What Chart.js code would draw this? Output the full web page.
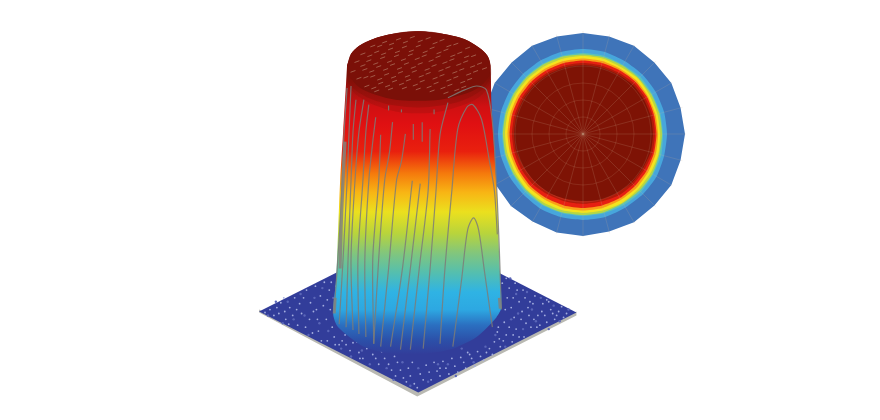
<!DOCTYPE html>
<html>
<head>
<meta charset="utf-8">
<script src="https://cdn.jsdelivr.net/npm/chart.js@4/dist/chart.umd.min.js"></script>
<style>
html, body { margin: 0; padding: 0; background: #fff; }
#stage { position: relative; width: 880px; height: 420px; overflow: hidden; }
canvas { position: absolute; display: block; }
#discChart { left: 480px; top: 31px; filter: blur(0.7px); }
#surfaceChart { left: 0; top: 0; filter: blur(0.4px); }
</style>
</head>
<body>
<div id="stage">
  <canvas id="discChart" width="206" height="206"></canvas>
  <canvas id="surfaceChart" width="880" height="420"></canvas>
</div>
<script>
// polar map: ring radius per direction, clockwise from the top, every 15 degrees
var angles = ['0','15','30','45','60','75','90','105','120','135','150','165','180','195','210','225','240','255','270','285','300','315','330','345'];
var ringBlue   = [101, 101, 102, 101, 102, 101, 102, 101, 102, 101, 102, 101, 102, 102, 101, 102, 101, 102, 102, 101, 102, 101, 102, 101];
var ringSky    = [85, 85, 84, 84, 84, 84, 84, 84, 85, 85, 85, 86, 86, 86, 86, 85, 85, 85, 85, 85, 85, 85, 85, 85];
var ringTeal   = [81, 81, 80, 81, 80, 80, 80, 81, 81, 82, 82, 82, 82, 82, 82, 82, 81, 81, 81, 81, 81, 81, 81, 81];
var ringLime   = [79.5, 79.5, 79, 79, 79, 79, 79, 79, 80, 80, 80, 81, 81, 81, 81, 80, 80, 80, 80, 80, 80, 80, 80, 80];
var ringYellow = [78, 78, 77, 78, 77, 77, 77, 78, 78, 78, 79, 79, 79, 79, 79, 79, 78, 78, 78, 78, 78, 78, 78, 78];
var ringOrange = [75.5, 75.5, 75, 75.5, 75, 75, 75, 75.5, 75.5, 76, 76, 76.5, 76.5, 76.5, 76, 76, 75.5, 75.5, 75.5, 75.5, 75.5, 75.5, 75.5, 75.5];
var ringRed    = [73.5, 73.5, 73.5, 74, 74, 73.5, 73.5, 73.5, 73.5, 73.5, 74, 74, 74, 74, 74, 74, 73.5, 73.5, 73.5, 73.5, 73.5, 73.5, 73.5, 73.5];
var ringDeep   = [71, 71, 71, 72, 72, 72, 72, 72, 71, 71, 71, 70, 70, 70, 70, 71, 71, 71, 71, 71, 71, 71, 71, 71];
var ringCore   = [69, 69, 69, 70, 70, 70, 70, 70, 69, 69, 68, 68, 67, 67, 68, 68, 68, 69, 69, 69, 69, 69, 69, 69];

var plateEdge = [[257,315],[417,401],[578,318],[578,314],[417,395],[257,312]];
var plate = [[257,314],[418,232],[578,315],[418,397]];
var body = [[346,62],[345,80],[342,130],[339,180],[337,230],[335,280],[332,317],[337,330],[363,350],[390,357],[417,358],[450,353],[477,340],[497,320],[502,310],[500,260],[498,200],[495,150],[492,100],[491,62],[488,52],[480,44],[465,35],[445,30],[418,27],[390,30],[372,35],[358,42],[350,50]];
var lidGlow = [[346,62],[358,42],[390,30],[418,27],[445,30],[480,44],[491,62],[490,80],[480,94],[462,103],[440,109],[418,111],[395,109],[375,103],[358,94],[347,84]];
var lidHalo = [[346,62],[358,42],[390,30],[418,27],[445,30],[480,44],[491,62],[489,78],[478,90],[462,98],[440,103],[418,105],[395,103],[375,98],[358,90],[347,80]];
var lid = [[346,62],[350,50],[358,42],[372,35],[390,30],[418,27],[445,30],[465,35],[480,44],[488,52],[491,62],[488,75],[478,85],[462,92],[440,97],[418,98],[395,97],[375,92],[358,84],[349,74]];

// contour lines on the wall
var contours = [
  [[346,85],[343,130],[341,180],[338,240],[333,313]],
  [[350,83],[348,130],[346,180],[342,260],[338,327]],
  [[355,97],[352,130],[350,180],[347,260],[345,330]],
  [[363,97],[358,130],[354,180],[350,260],[352,333]],
  [[368,102],[365,130],[362,180],[357,260],[358,337]],
  [[375,115],[372,140],[368,180],[364,260],[365,340]],
  [[380,133],[378,180],[372,260],[373,347]],
  [[392,120],[389,150],[384,180],[378,260],[373,347]],
  [[405,132],[401,160],[396,180],[388,270],[380,350]],
  [[412,180],[402,270],[390,350]],
  [[420,183],[410,270],[400,353]],
  [[430,127],[428,190],[419,270],[410,353]],
  [[448,100],[440,133],[436,190],[430,270],[423,352]],
  [[440,347],[445,270],[452,190],[458,127],[467,105],[473,102],[482,117],[490,160],[495,190],[498,235]],
  [[448,95],[465,87],[477,83],[487,87],[493,120],[497,180],[500,250],[502,312]],
  [[453,350],[462,280],[468,230],[474,218],[479,230],[485,273],[493,330]],
  [[388,103],[388,108]],[[401,107],[401,110]],[[413,122],[413,138]],[[422,120],[422,140]],[[434,107],[434,112]]
];
var edgeBand = [[344,140],[342,180],[340,230],[339,270]];
var footLeft = [[334,300],[333,316]];
var footRight = [[500,300],[501,311]];

// rough positions of the light flecks on the plate and dashes on the lid
var plateFlecks = [[268,312],[272,318],[279,305],[284,322],[288,310],[293,300],[296,328],[300,316],[305,292],[309,305],[311,336],[316,322],[319,298],[323,284],[326,344],[329,312],[331,330],[320,344],[308,322],[298,306],[283,314],[275,310],[291,318],[314,288],[328,292],[333,340],[338,348],[344,338],[349,354],[356,345],[362,362],[366,352],[372,358],[378,368],[384,362],[391,374],[397,366],[403,382],[408,372],[414,388],[420,378],[426,369],[431,384],[437,375],[443,365],[449,378],[455,370],[461,361],[466,372],[472,362],[478,355],[484,364],[490,352],[495,345],[501,350],[507,338],[513,345],[517,332],[522,322],[525,340],[529,310],[532,330],[536,298],[539,318],[544,306],[548,325],[552,312],[558,318],[563,309],[568,316],[526,300],[518,292],[512,310],[508,300],[530,318],[541,328],[505,325],[515,320],[516,285],[534,306],[548,302],[556,322],[503,285],[507,280],[440,372],[410,380],[395,380],[370,348],[358,356],[345,348],[475,370],[468,356],[498,335],[500,342],[326,302],[335,288],[315,312],[263,315],[277,316],[282,300],[287,327],[295,312],[302,300],[304,330],[312,314],[317,334],[322,308],[325,322],[330,284],[334,348],[341,344],[352,346],[359,362],[364,345],[375,362],[381,355],[388,368],[394,360],[400,374],[406,386],[412,366],[417,392],[423,384],[429,376],[434,366],[440,380],[446,372],[452,362],[458,376],[464,366],[470,358],[481,360],[487,356],[493,358],[499,330],[504,344],[510,330],[514,338],[520,340],[523,314],[527,326],[531,304],[535,322],[538,330],[543,314],[546,318],[550,304],[554,316],[560,314],[565,320],[510,290],[520,304],[506,312],[514,300],[524,292]];
var plateSpecks = [[266,318],[274,304],[281,326],[286,304],[292,322],[299,296],[303,318],[307,338],[313,300],[318,326],[321,290],[327,334],[332,300],[340,352],[350,360],[361,354],[369,368],[376,352],[386,372],[393,384],[402,366],[410,390],[418,372],[428,386],[438,368],[448,368],[456,380],[462,352],[474,366],[486,350],[496,338],[506,350],[512,322],[519,316],[524,332],[533,312],[537,324],[542,300],[550,332],[555,308],[561,324],[570,312],[511,280],[517,296],[528,294]];
var lidDashes = [[372,42],[384,38],[398,35],[412,33],[428,34],[442,36],[456,40],[468,44],[362,50],[376,48],[390,45],[404,43],[418,42],[432,44],[446,46],[460,49],[474,52],[356,58],[368,57],[382,54],[396,52],[410,51],[424,52],[438,53],[452,56],[466,58],[480,60],[352,68],[364,66],[378,63],[392,61],[406,60],[420,60],[434,62],[448,64],[462,66],[476,68],[358,75],[372,73],[386,71],[400,69],[414,68],[428,70],[442,72],[456,74],[470,76],[366,83],[380,80],[394,78],[408,77],[422,78],[436,80],[450,82],[464,84],[376,88],[390,86],[404,85],[418,86],[432,88],[446,90],[379,42],[391,40],[405,38],[420,37],[435,39],[449,42],[369,52],[383,50],[397,48],[411,47],[425,48],[439,49],[453,52],[467,53],[362,62],[375,60],[389,58],[403,56],[417,55],[431,57],[445,59],[459,61],[473,63],[485,65],[371,68],[385,66],[399,65],[413,64],[427,66],[441,67],[455,69],[469,71],[365,74],[379,76],[393,74],[407,73],[421,73],[435,75],[449,77],[463,79],[373,85],[387,83],[401,81],[415,82],[429,84],[443,85],[457,87]];

var gradientStops = [[25,'#7b1008'],[72,'#7d1008'],[88,'#a81210'],[104,'#d01012'],[122,'#e01012'],[150,'#e9200e'],[172,'#f5780c'],[192,'#f8b514'],[212,'#ebe01e'],[234,'#b8d43c'],[254,'#82c67c'],[274,'#55bfae'],[294,'#2fb3e4'],[312,'#2da8e2'],[328,'#2b6fc0'],[344,'#2c4fa8'],[358,'#323d9a']];

function toPoints(list) {
  return list.map(function (p) { return { x: p[0], y: p[1] }; });
}

function bodyFill(context) {
  var chart = context.chart;
  if (!chart.chartArea) return '#e01012';
  var y = chart.scales.y;
  var top = y.getPixelForValue(25), bottom = y.getPixelForValue(358);
  var g = chart.ctx.createLinearGradient(0, top, 0, bottom);
  gradientStops.forEach(function (s) {
    g.addColorStop((y.getPixelForValue(s[0]) - top) / (bottom - top), s[1]);
  });
  return g;
}

// disc behind the surface
var rings = [
  [ringBlue, '#3f74b9', 0], [ringSky, '#47a6dc', 0.2], [ringTeal, '#5cc0b8', 0.2],
  [ringLime, '#b5d645', 0.2], [ringYellow, '#f3e41e', 0.2], [ringOrange, '#fa9e18', 0.2],
  [ringRed, '#e62012', 0.2], [ringDeep, '#b01a0a', 0.2], [ringCore, '#7e1305', 0.2]
];
new Chart(document.getElementById('discChart'), {
  type: 'radar',
  data: {
    labels: angles,
    datasets: rings.map(function (r, i) {
      return { data: r[0], backgroundColor: r[1], borderWidth: 0, pointRadius: 0, fill: true, tension: r[2], order: -i };
    })
  },
  options: {
    responsive: false,
    animation: false,
    layout: { padding: 0 },
    plugins: { legend: { display: false }, tooltip: { enabled: false } },
    scales: {
      r: {
        min: 0,
        max: 103,
        ticks: { display: false, stepSize: 17 },
        pointLabels: { display: false },
        grid: {
          circular: true,
          color: function (c) { return c.tick && c.tick.value > 68 ? 'rgba(0,0,0,0)' : 'rgba(205,165,135,0.28)'; },
          lineWidth: 0.6,
          borderDash: [1, 2],
          z: 1
        },
        angleLines: { color: 'rgba(205,175,150,0.3)', lineWidth: 0.6 }
      }
    }
  }
});

// plate and cylinder
var datasets = [
  { data: toPoints(plateEdge), backgroundColor: '#b9b9b2', fill: 'shape', borderWidth: 0 },
  { data: toPoints(plate), backgroundColor: '#323d9a', fill: 'shape', borderWidth: 0 },
  { data: toPoints(plateSpecks), showLine: false, pointRadius: 1.2, pointBackgroundColor: '#5a66b8', pointBorderWidth: 0 },
  { data: toPoints(plateFlecks), showLine: false, pointRadius: 0.9, pointBackgroundColor: '#a3addf', pointBorderWidth: 0 },
  { data: toPoints(body), backgroundColor: bodyFill, fill: 'shape', borderWidth: 0, tension: 0.25 },
  { data: toPoints(lidGlow), backgroundColor: 'rgba(123,16,8,0.22)', fill: 'shape', borderWidth: 0, tension: 0.35 },
  { data: toPoints(lidHalo), backgroundColor: 'rgba(123,16,8,0.3)', fill: 'shape', borderWidth: 0, tension: 0.35 },
  { data: toPoints(lid), backgroundColor: '#7b1008', fill: 'shape', borderWidth: 0, tension: 0.35 }
];
contours.forEach(function (c) {
  datasets.push({ data: toPoints(c), borderColor: 'rgba(125,125,120,0.85)', borderWidth: 1.2, tension: 0.3, pointRadius: 0, fill: false });
});
datasets.push({ data: toPoints(edgeBand), borderColor: 'rgba(130,130,125,0.85)', borderWidth: 3, tension: 0.3, pointRadius: 0, fill: false });
datasets.push({ data: toPoints(footLeft), borderColor: 'rgba(130,130,125,0.85)', borderWidth: 3, pointRadius: 0, fill: false });
datasets.push({ data: toPoints(footRight), borderColor: 'rgba(130,130,125,0.85)', borderWidth: 3, pointRadius: 0, fill: false });
datasets.push({ data: toPoints(lidDashes), showLine: false, pointStyle: 'line', pointRadius: 2.6, rotation: -20, pointBorderColor: 'rgba(175,115,95,0.75)', pointBorderWidth: 1 });
datasets.forEach(function (d, i) {
  d.order = -i;
  if (d.showLine === undefined) d.showLine = true;
  if (d.pointRadius === undefined) d.pointRadius = 0;
});

new Chart(document.getElementById('surfaceChart'), {
  type: 'scatter',
  data: { datasets: datasets },
  options: {
    responsive: false,
    animation: false,
    layout: { padding: 0 },
    plugins: { legend: { display: false }, tooltip: { enabled: false } },
    scales: {
      x: { type: 'linear', min: 0, max: 880, display: false },
      y: { type: 'linear', min: 0, max: 420, reverse: true, display: false }
    }
  }
});
</script>
</body>
</html>
